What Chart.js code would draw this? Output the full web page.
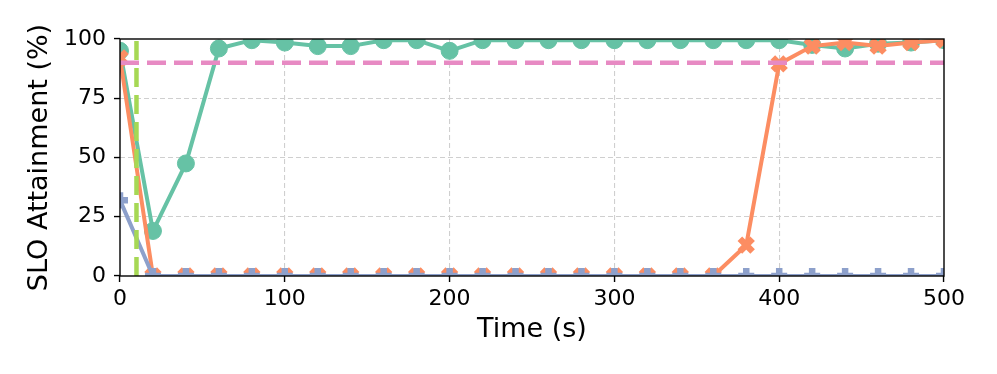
<!DOCTYPE html>
<html>
<head>
<meta charset="utf-8">
<script src="https://cdn.jsdelivr.net/npm/chart.js@4.4.1/dist/chart.umd.min.js"></script>
<style>
  html, body { margin: 0; padding: 0; background: #ffffff; }
  #wrap { width: 997px; height: 374px; }
</style>
</head>
<body>
<div id="wrap"><canvas id="c" width="997" height="374"></canvas></div>
<script>
// ---- data ----
const times = [0, 20, 40, 60, 80, 100, 120, 140, 160, 180, 200, 220, 240, 260, 280, 300, 320, 340, 360, 380, 400, 420, 440, 460, 480, 500];
const greenSeries = [95, 19, 47.5, 96, 99.5, 98.5, 97, 97, 99.5, 99.5, 95, 99.5, 99.5, 99.5, 99.5, 99.5, 99.5, 99.5, 99.5, 99.5, 99.5, 97.5, 96, 98, 98.5, 99.5];
const orangeSeries = [92, 0, 0, 0, 0, 0, 0, 0, 0, 0, 0, 0, 0, 0, 0, 0, 0, 0, 0, 13, 89.5, 97, 98.5, 97, 98.5, 99.5];
const blueSeries = [32, 0, 0, 0, 0, 0, 0, 0, 0, 0, 0, 0, 0, 0, 0, 0, 0, 0, 0, 0, 0, 0, 0, 0, 0, 0];
const sloTarget = 90;
const markerTime = 10;
const xTicks = [0, 100, 200, 300, 400, 500];
const yTicks = [0, 25, 50, 75, 100];

const pts = (vals) => times.map((t, i) => ({ x: t, y: vals[i] }));

const FONT = "'DejaVu Sans', sans-serif";

const framePlugin = {
  id: 'frame',
  afterDatasetsDraw(chart) {
    const { ctx, chartArea: a } = chart;
    ctx.save();
    ctx.strokeStyle = '#000000';
    ctx.lineWidth = 1.4;
    ctx.strokeRect(a.left, a.top, a.right - a.left, a.bottom - a.top);
    ctx.restore();
  }
};

const edgeTransparent = (ctx) => {
  const v = ctx.tick ? ctx.tick.value : null;
  const sc = ctx.scale;
  if (v === sc.min || v === sc.max) return 'rgba(0,0,0,0)';
  return '#cfcfcf';
};

new Chart(document.getElementById('c'), {
  type: 'line',
  data: {
    datasets: [
      {
        label: 'marker', data: [{ x: markerTime, y: 0 }, { x: markerTime, y: 100 }],
        borderColor: '#a6d854', borderWidth: 4.5, borderDash: [19, 8], pointRadius: 0, fill: false
      },
      {
        label: 'target', data: [{ x: 0, y: sloTarget }, { x: 500, y: sloTarget }],
        borderColor: '#e78ac3', borderWidth: 4.5, borderDash: [19, 8], pointRadius: 0, fill: false
      },
      {
        label: 'blue', data: pts(blueSeries),
        borderColor: '#8da0cb', borderWidth: 4, pointStyle: 'cross', pointRadius: 8,
        pointBorderWidth: 6.5, pointBorderColor: '#8da0cb', pointBackgroundColor: '#8da0cb'
      },
      {
        label: 'orange', data: pts(orangeSeries),
        borderColor: '#fc8d62', borderWidth: 4, pointStyle: 'crossRot', pointRadius: 9,
        pointBorderWidth: 6.5, pointBorderColor: '#fc8d62', pointBackgroundColor: '#fc8d62'
      },
      {
        label: 'green', data: pts(greenSeries),
        borderColor: '#66c2a5', borderWidth: 4, pointStyle: 'circle', pointRadius: 8.5,
        pointBorderWidth: 1, pointBorderColor: '#66c2a5', pointBackgroundColor: '#66c2a5'
      }
    ]
  },
  options: {
    responsive: false,
    animation: false,
    devicePixelRatio: 1,
    layout: { padding: { top: 39, right: 53, left: 0, bottom: 0 } },
    elements: { line: { tension: 0 } },
    plugins: { legend: { display: false }, tooltip: { enabled: false } },
    scales: {
      x: {
        type: 'linear', min: 0, max: 500,
        afterBuildTicks: (s) => { s.ticks = xTicks.map(v => ({ value: v })); },
        afterFit: (s) => { s.height = 98; },
        ticks: { color: '#000', font: { family: FONT, size: 22 }, padding: 4, maxRotation: 0 },
        grid: { color: edgeTransparent, lineWidth: 1.1, drawTicks: true, tickLength: 6, tickColor: '#000', tickWidth: 1.4 },
        border: { display: false, dash: [5, 3] },
        title: { display: true, text: 'Time (s)', color: '#000', font: { family: FONT, size: 27, lineHeight: 1.2 }, padding: { top: 0, bottom: 28 } }
      },
      y: {
        type: 'linear', min: 0, max: 100,
        afterBuildTicks: (s) => { s.ticks = yTicks.map(v => ({ value: v })); },
        afterFit: (s) => { s.width = 120; },
        ticks: { color: '#000', font: { family: FONT, size: 22 }, padding: 8 },
        grid: { color: edgeTransparent, lineWidth: 1.1, drawTicks: true, tickLength: 6, tickColor: '#000', tickWidth: 1.4 },
        border: { display: false, dash: [5, 3] },
        title: { display: true, text: 'SLO Attainment (%)', color: '#000', font: { family: FONT, size: 27, lineHeight: 1.2 }, padding: { top: 24, bottom: 0 } }
      }
    }
  },
  plugins: [framePlugin]
});
</script>
</body>
</html>
